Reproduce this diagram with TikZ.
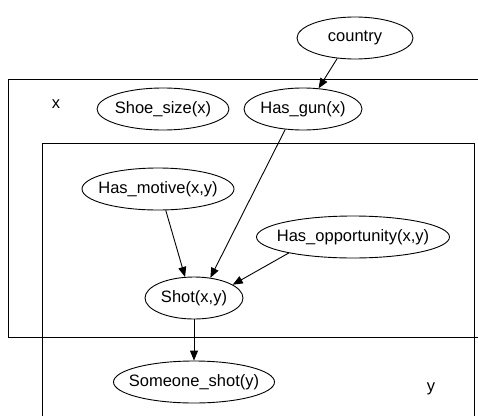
\documentclass[tikz,border=0pt]{standalone}
\usepackage{fontspec}
\setmainfont{Liberation Sans}
\usetikzlibrary{shapes.geometric,arrows.meta}
\newcommand\ztext[1]{\makebox[0pt]{#1}}
\tikzset{
  var/.style={draw, ellipse, line width=0.9pt, inner sep=0pt, minimum height=42pt,
    font=\fontsize{16.5}{20}\selectfont},
  plate/.style={draw, line width=0.9pt},
  platelabel/.style={font=\fontsize{16.5}{20}\selectfont, inner sep=0pt},
  edge/.style={draw, line width=0.9pt, -{Triangle[length=10pt,width=8pt]}}
}
\begin{document}
\begin{tikzpicture}[x=1pt,y=-1pt]
\useasboundingbox (0,0) rectangle (478,415);
\fill[white] (0,0) rectangle (478,415);
% plates
\draw[plate] (8,79) rectangle (495,337);
\draw[plate] (42,143) rectangle (474,430);
\node[platelabel] (xlab) at (56,104) {x};
\node[platelabel] (ylab) at (431,389) {y};
% variables
\node[var, minimum width=116pt] (country) at (355,38) {\ztext{country}};
\node[var, minimum width=132pt] (shoe) at (163,109) {\ztext{Shoe\_size(x)}};
\node[var, minimum width=118pt] (hasgun) at (303,109) {\ztext{Has\_gun(x)}};
\node[var, minimum width=152pt] (motive) at (158,189) {\ztext{Has\_motive(x,y)}};
\node[var, minimum width=193pt] (opp) at (353,237) {\ztext{Has\_opportunity(x,y)}};
\node[var, minimum width=98pt] (shot) at (194,298) {\ztext{Shot(x,y)}};
\node[var, minimum width=161pt] (someone) at (194,382) {\ztext{Someone\_shot(y)}};
% edges
\draw[edge] (country.229) -- (hasgun.53);
\draw[edge] (hasgun.229) -- (shot.51);
\draw[edge] (motive.290) -- (shot.113);
\draw[edge] (opp.194) -- (shot.19);
\draw[edge] (shot.south) -- (someone.north);
\end{tikzpicture}
\end{document}
